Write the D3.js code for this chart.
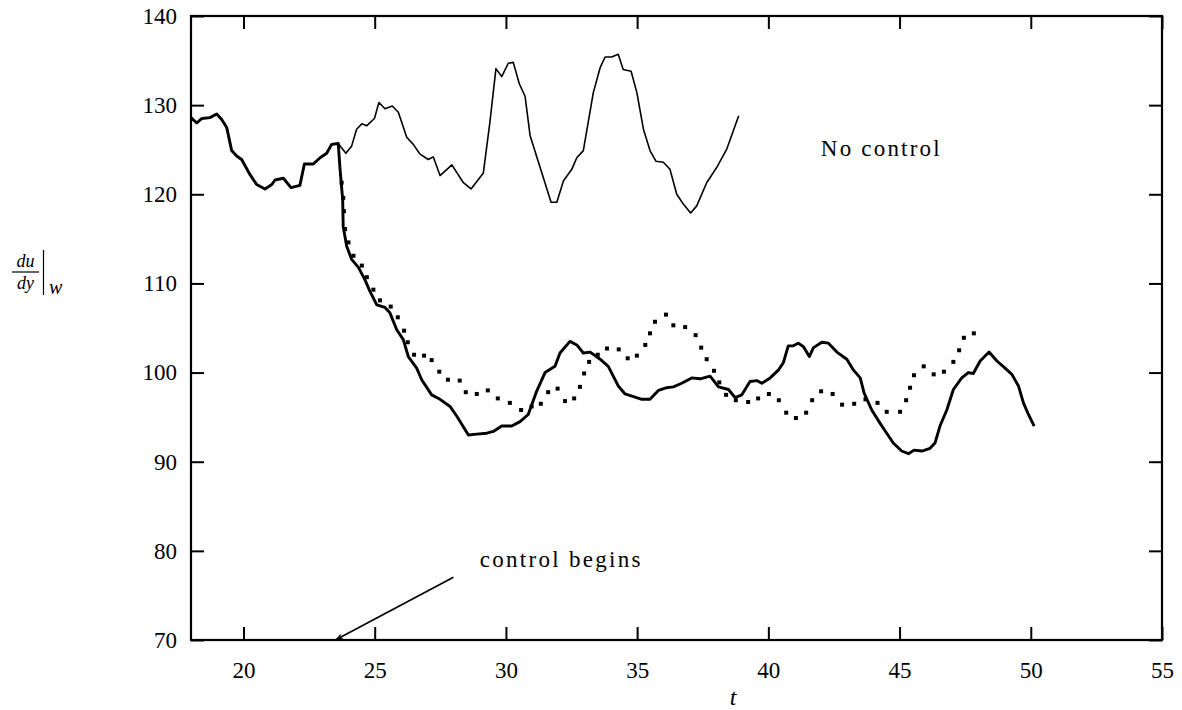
<!DOCTYPE html>
<html>
<head>
<meta charset="utf-8">
<script src="https://cdn.jsdelivr.net/npm/d3@7"></script>
<style>
  html, body { margin: 0; padding: 0; background: #fff; }
  svg { display: block; }
  text { font-family: "Liberation Serif", "Times New Roman", serif; fill: #000; }
</style>
</head>
<body>
<svg id="chart" width="1182" height="710"></svg>
<script>
// ---- Data ----
const xTicks = [20, 25, 30, 35, 40, 45, 50, 55];
const yTicks = [70, 80, 90, 100, 110, 120, 130, 140];

// Uncontrolled run ("No control")
const noCtrlT = [18.00,18.22,18.41,18.72,18.98,19.17,19.36,19.55,19.74,19.93,20.25,20.50,20.82,21.08,21.20,21.52,21.81,22.15,22.32,22.66,22.92,23.17,23.36,23.61,
  23.90,24.12,24.31,24.51,24.70,24.99,25.16,25.39,25.67,25.90,26.22,26.47,26.73,27.04,27.23,27.49,27.94,28.38,28.67,29.14,29.39,29.62,29.84,30.09,30.28,30.51,
  30.73,30.92,31.37,31.72,31.94,32.19,32.51,32.70,32.95,33.33,33.59,33.78,34.03,34.28,34.47,34.77,34.99,35.24,35.49,35.72,36.00,36.25,36.51,36.76,37.04,37.27,
  37.65,38.03,38.42,38.87];
const noCtrlV = [128.6,128.0,128.5,128.6,129.0,128.4,127.5,124.9,124.3,123.9,122.2,121.1,120.6,121.1,121.6,121.8,120.75,121.0,123.4,123.4,124.1,124.6,125.6,125.7,
  124.6,125.4,127.3,127.9,127.7,128.5,130.3,129.6,129.9,129.2,126.4,125.6,124.5,123.9,124.2,122.1,123.3,121.3,120.6,122.4,128.1,134.1,133.2,134.7,134.8,132.4,
  131.0,126.6,122.4,119.1,119.1,121.5,122.8,124.1,124.9,131.4,134.2,135.4,135.4,135.7,134.0,133.8,131.4,127.3,124.9,123.7,123.6,122.8,120.0,118.9,117.9,118.7,
  121.3,123.0,125.1,128.8];

// Controlled run (solid, after control begins at t = 23.6)
const ctrlT = [23.61,23.68,23.78,23.80,23.93,24.12,24.38,24.63,24.82,25.08,25.39,25.58,25.84,26.09,26.28,26.60,26.79,27.17,27.49,27.87,28.13,28.57,28.89,29.27,
  29.52,29.84,30.22,30.54,30.85,31.17,31.49,31.87,32.06,32.44,32.70,32.95,33.21,33.59,33.90,34.28,34.54,34.86,35.18,35.49,35.81,36.13,36.38,36.70,37.08,37.40,
  37.78,38.10,38.48,38.73,38.99,39.30,39.56,39.75,40.07,40.39,40.57,40.76,40.95,41.14,41.34,41.56,41.72,42.04,42.29,42.61,42.99,43.24,43.50,43.65,43.94,44.26,
  44.51,44.76,45.08,45.34,45.55,45.85,46.16,46.35,46.54,46.80,47.05,47.37,47.62,47.81,48.07,48.41,48.71,49.02,49.28,49.53,49.72,49.91,50.13];
const ctrlV = [125.7,122.8,119.4,116.4,114.2,112.7,111.8,110.4,109.1,107.6,107.3,106.7,104.8,103.7,101.8,100.5,99.2,97.5,97.0,96.2,95.1,93.0,93.1,93.2,
  93.4,94.0,94.0,94.5,95.3,97.9,100.0,100.7,102.2,103.5,103.1,102.2,102.3,101.5,100.7,98.5,97.6,97.3,97.0,97.0,98.0,98.3,98.4,98.8,99.4,99.3,
  99.6,98.4,98.1,97.2,97.5,99.0,99.1,98.8,99.4,100.3,101.1,103.0,103.0,103.3,102.9,101.8,102.8,103.4,103.3,102.3,101.5,100.3,99.4,97.7,95.8,94.3,
  93.2,92.1,91.2,90.9,91.3,91.2,91.5,92.1,94.0,95.8,98.1,99.4,100.0,99.9,101.3,102.3,101.3,100.5,99.8,98.5,96.6,95.3,94.0];

// Second controlled run (dotted)
const dotT = [23.74,23.80,23.83,23.87,24.00,24.19,24.51,24.70,24.95,25.20,25.61,25.88,26.12,26.26,26.50,26.88,27.17,27.46,27.79,28.24,28.47,28.89,29.31,29.69,
  30.15,30.58,30.98,31.33,31.61,31.97,32.25,32.60,32.82,32.98,33.17,33.50,33.85,34.30,34.64,34.99,35.31,35.49,35.68,36.10,36.38,36.83,37.23,37.44,37.65,37.93,
  38.13,38.39,38.76,39.23,39.61,40.02,40.40,40.68,41.05,41.44,41.67,42.01,42.45,42.81,43.27,43.70,44.16,44.51,45.02,45.25,45.40,45.55,45.92,46.30,46.69,47.05,
  47.27,47.45,47.83];
const dotV = [121.3,119.6,118.1,116.1,114.6,113.1,112.0,110.7,109.3,108.1,107.4,106.2,104.7,103.4,102.0,101.9,101.4,100.1,99.2,99.1,97.8,97.6,98.0,97.1,
  96.6,95.8,96.2,96.5,97.8,98.2,96.8,97.1,98.4,99.9,101.2,102.0,102.7,102.6,101.6,101.9,103.1,104.4,105.7,106.5,105.3,105.1,104.2,102.8,101.5,100.2,
  98.9,97.5,96.9,96.7,97.1,97.6,96.9,95.5,94.9,95.5,96.9,97.9,97.6,96.4,96.5,97.0,96.6,95.6,95.6,96.9,98.3,99.7,100.7,99.8,100.1,101.2,
  102.5,103.9,104.4];

const controlStart = 23.61;
const annNoControl = {t: 42.0, v: 124.3, text: "No control"};
const annBegins = {t: 29.0, v: 78.2, text: "control begins"};
const arrowFrom = {t: 28.0, v: 77.05};
const arrowTo = {t: 23.5, v: 70};

// ---- Layout ----
const svg = d3.select("#chart");
const L = 191, R = 1162, T = 16, B = 640;
const x = d3.scaleLinear().domain([18, 55]).range([L, R]);
const y = d3.scaleLinear().domain([70, 140]).range([B, T]);

const zip = (ts, vs) => ts.map((t, i) => ({t, v: vs[i]}));
const noCtrl = zip(noCtrlT, noCtrlV);
const ctrl = noCtrl.filter(d => d.t <= controlStart).concat(zip(ctrlT, ctrlV).filter(d => d.t > controlStart));
const dots = zip(dotT, dotV);

const line = d3.line().x(d => x(d.t)).y(d => y(d.v));

// Axes (ticks pointing inward, mirrored on top/right)
const TS = 13;
const gB = svg.append("g").attr("transform", `translate(0,${B})`)
  .call(d3.axisBottom(x).tickValues(xTicks).tickSizeInner(-TS).tickSizeOuter(0).tickPadding(22).tickFormat(d3.format("d")));
const gT = svg.append("g").attr("transform", `translate(0,${T})`)
  .call(d3.axisTop(x).tickValues(xTicks).tickSizeInner(-TS).tickSizeOuter(0).tickFormat(""));
const gL = svg.append("g").attr("transform", `translate(${L},0)`)
  .call(d3.axisLeft(y).tickValues(yTicks).tickSizeInner(-TS).tickSizeOuter(0).tickPadding(14).tickFormat(d3.format("d")));
const gR = svg.append("g").attr("transform", `translate(${R},0)`)
  .call(d3.axisRight(y).tickValues(yTicks).tickSizeInner(-TS).tickSizeOuter(0).tickFormat(""));

[gB, gT, gL, gR].forEach(g => {
  g.select(".domain").remove();
  g.selectAll(".tick line").attr("stroke", "#000").attr("stroke-width", 2);
  g.selectAll(".tick text").attr("font-size", 23).attr("font-family", "Liberation Serif, serif").attr("fill", "#000");
});
gB.selectAll(".tick text").attr("dy", "0.71em");

// Frame
svg.append("rect").attr("x", L).attr("y", T).attr("width", R - L).attr("height", B - T)
  .attr("fill", "none").attr("stroke", "#000").attr("stroke-width", 2.2);

// Series
svg.append("path").datum(noCtrl).attr("d", line)
  .attr("fill", "none").attr("stroke", "#000").attr("stroke-width", 1.6).attr("stroke-linejoin", "round");
svg.append("path").datum(ctrl).attr("d", line)
  .attr("fill", "none").attr("stroke", "#000").attr("stroke-width", 2.9).attr("stroke-linejoin", "round");
svg.append("g").selectAll("rect").data(dots).join("rect")
  .attr("x", d => x(d.t) - 2).attr("y", d => y(d.v) - 2)
  .attr("width", 4).attr("height", 4).attr("fill", "#000");

// Annotations
svg.append("text").attr("x", x(annNoControl.t)).attr("y", y(annNoControl.v))
  .attr("font-size", 23).attr("letter-spacing", 2.2).text(annNoControl.text);
svg.append("text").attr("x", x(annBegins.t)).attr("y", y(annBegins.v))
  .attr("font-size", 23).attr("letter-spacing", 2.3).text(annBegins.text);

svg.append("defs").append("marker").attr("id", "arr")
  .attr("viewBox", "0 0 10 10").attr("refX", 10).attr("refY", 5)
  .attr("markerWidth", 10).attr("markerHeight", 8).attr("markerUnits", "userSpaceOnUse")
  .attr("orient", "auto")
  .append("path").attr("d", "M0,1 L10,5 L0,9 L3,5 Z").attr("fill", "#000");
svg.append("line")
  .attr("x1", x(arrowFrom.t)).attr("y1", y(arrowFrom.v))
  .attr("x2", x(arrowTo.t)).attr("y2", y(arrowTo.v))
  .attr("stroke", "#000").attr("stroke-width", 1.7).attr("marker-end", "url(#arr)");

// Axis labels
svg.append("text").attr("x", 733).attr("y", 705).attr("text-anchor", "middle")
  .attr("font-size", 24).attr("font-style", "italic").text("t");

const yl = svg.append("g");
yl.append("text").attr("x", 25.5).attr("y", 267).attr("text-anchor", "middle")
  .attr("font-size", 18).attr("font-style", "italic").text("du");
yl.append("line").attr("x1", 12).attr("x2", 39).attr("y1", 272).attr("y2", 272)
  .attr("stroke", "#000").attr("stroke-width", 1.2);
yl.append("text").attr("x", 25.5).attr("y", 289).attr("text-anchor", "middle")
  .attr("font-size", 18).attr("font-style", "italic").text("dy");
yl.append("line").attr("x1", 43.5).attr("x2", 43.5).attr("y1", 250).attr("y2", 295)
  .attr("stroke", "#000").attr("stroke-width", 1.2);
yl.append("text").attr("x", 49).attr("y", 294)
  .attr("font-size", 20).attr("font-style", "italic").text("w");
</script>
</body>
</html>
